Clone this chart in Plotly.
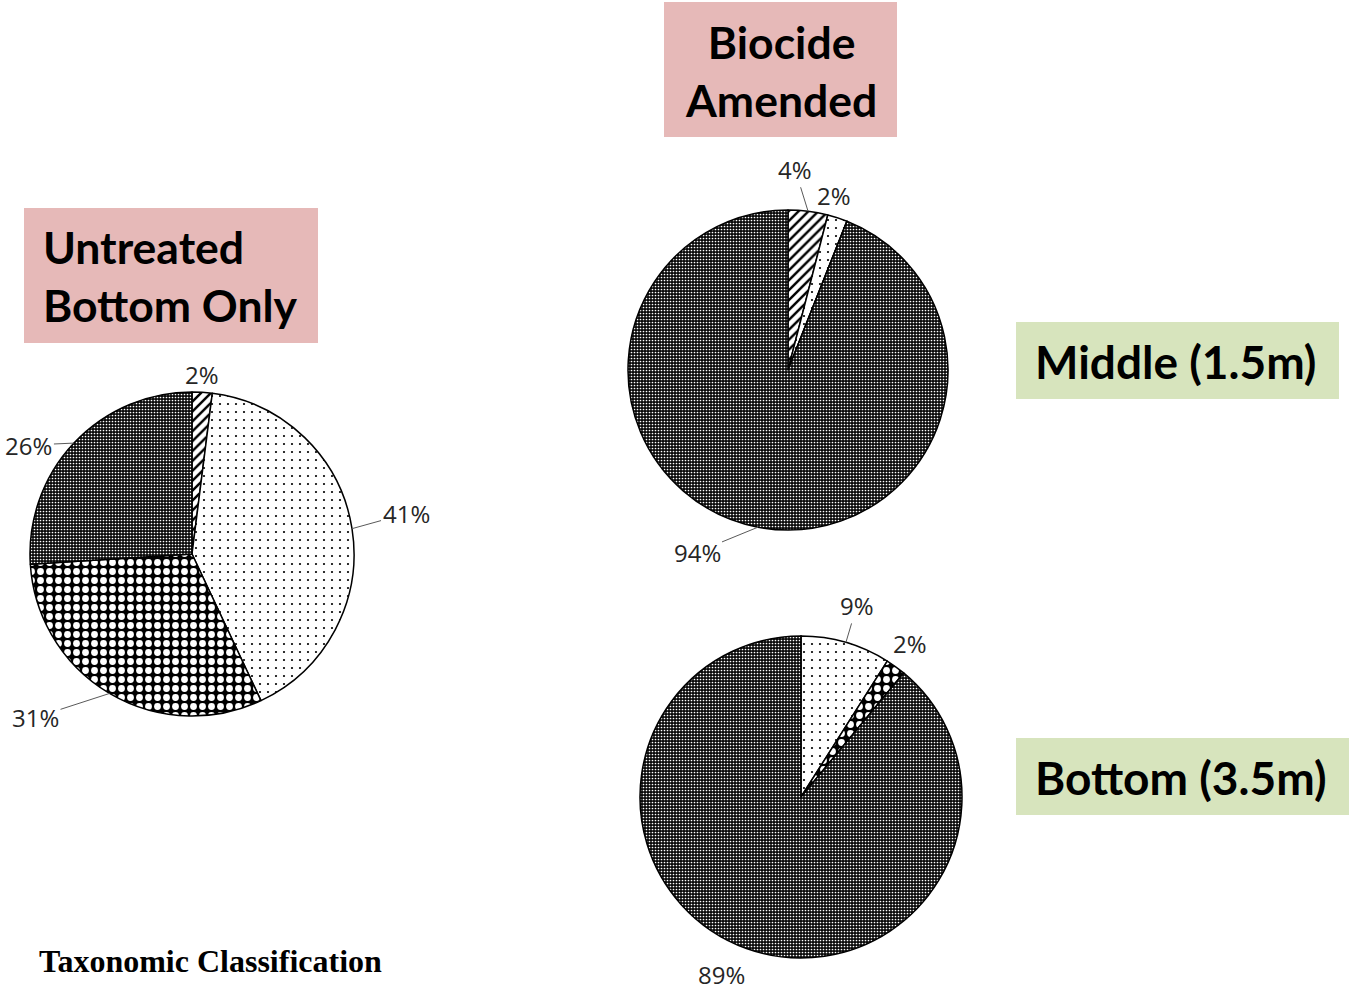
import math
import plotly.graph_objects as go

W, H = 1349, 990

# Data
categories = ["Group A", "Group B", "Group C", "Group D"]
untreated_bottom = [2, 41, 31, 26]
biocide_middle = [4, 2, 0, 94]
biocide_bottom = [0, 9, 2, 89]

# Styles
pattern_shapes = ["/", ".", ".", "."]
pattern_fg = ["black", "black", "white", "white"]
pattern_bg = ["white", "white", "black", "#0a0a0a"]
pattern_size = [7, 8, 9, 3]
pattern_solid = [0.35, 0.06, 0.45, 0.25]

# label placement (pixel offsets from slice edge midpoint, leader line on/off)
untreated_lbl = [(0, -18, False), (54, -15, True), (-74, 24, True), (-45, 2, True)]
middle_lbl = [(-13, -42, True), (-3, -22, False), None, (-61, 25, True)]
bottom_lbl = [None, (11, -37, True), (14, -23, False), (-25, 26, False)]

fig = go.Figure()


def px_dom(cx, cy, r):
    return dict(x=[(cx - r) / W, (cx + r) / W], y=[1 - (cy + r) / H, 1 - (cy - r) / H])


def pie(values, cx, cy, r, name, lbls):
    fig.add_trace(go.Pie(
        labels=categories, values=values, name=name,
        sort=False, direction="clockwise", rotation=0,
        textinfo="none",
        marker=dict(
            line=dict(color="black", width=1.5),
            pattern=dict(shape=pattern_shapes, fgcolor=pattern_fg, bgcolor=pattern_bg,
                         size=pattern_size, solidity=pattern_solid, fillmode="replace"),
        ),
        domain=px_dom(cx, cy, r), showlegend=False, hoverinfo="label+percent",
    ))
    total = sum(values)
    cum = 0
    for v, lb in zip(values, lbls):
        mid = (cum + v / 2) / total * 2 * math.pi
        cum += v
        if v <= 0 or lb is None:
            continue
        ex = cx + r * math.sin(mid)
        ey = cy - r * math.cos(mid)
        dx, dy, line = lb
        common = dict(xref="paper", yref="paper", x=ex / W, y=1 - ey / H,
                      text=f"{round(v / total * 100)}%",
                      font=dict(family="Open Sans", size=24, color="#262626"))
        if line:
            fig.add_annotation(**common, showarrow=True, arrowhead=0, arrowwidth=1,
                               arrowcolor="#595959", ax=dx, ay=dy, standoff=0)
        else:
            fig.add_annotation(**common, showarrow=False, xshift=dx, yshift=-dy,
                               xanchor="center", yanchor="middle")


pie(untreated_bottom, 192, 554, 162, "Untreated Bottom Only", untreated_lbl)
pie(biocide_middle, 788, 370, 160, "Biocide Middle (1.5m)", middle_lbl)
pie(biocide_bottom, 801, 797, 161, "Biocide Bottom (3.5m)", bottom_lbl)

pink = "#E6B9B8"
green = "#D7E4BD"


def box(x0, y0, x1, y1, color):
    fig.add_shape(type="rect", xref="paper", yref="paper",
                  x0=x0 / W, x1=x1 / W, y0=1 - y1 / H, y1=1 - y0 / H,
                  fillcolor=color, line_width=0, layer="below")


box(664, 2, 897, 137, pink)
box(24, 208, 318, 343, pink)
box(1016, 322, 1339, 399, green)
box(1016, 738, 1349, 815, green)

tfont = dict(family="Lato", size=44.5, color="black")
tfont2 = dict(family="Lato", size=46, color="black")
fig.add_annotation(x=781 / W, y=1 - 70 / H, xref="paper", yref="paper", showarrow=False,
                   text="<b>Biocide<br>Amended</b>", align="center", font=tfont,
                   xanchor="center", yanchor="middle")
fig.add_annotation(x=41 / W, y=1 - 275 / H, xref="paper", yref="paper", showarrow=False,
                   text="<b>Untreated<br>Bottom Only</b>", align="left", font=tfont,
                   xanchor="left", yanchor="middle")
fig.add_annotation(x=1176 / W, y=1 - 361 / H, xref="paper", yref="paper", showarrow=False,
                   text="<b>Middle (1.5m)</b>", align="center", font=tfont2,
                   xanchor="center", yanchor="middle")
fig.add_annotation(x=1181 / W, y=1 - 777 / H, xref="paper", yref="paper", showarrow=False,
                   text="<b>Bottom (3.5m)</b>", align="center", font=tfont2,
                   xanchor="center", yanchor="middle")
fig.add_annotation(x=37 / W, y=1 - 961 / H, xref="paper", yref="paper", showarrow=False,
                   text="<b>Taxonomic Classification</b>", align="left",
                   font=dict(family="Liberation Serif", size=32, color="black"),
                   xanchor="left", yanchor="middle")

fig.update_layout(width=W, height=H, margin=dict(l=0, r=0, t=0, b=0),
                  paper_bgcolor="white", plot_bgcolor="white")
fig.write_html("out.html")
